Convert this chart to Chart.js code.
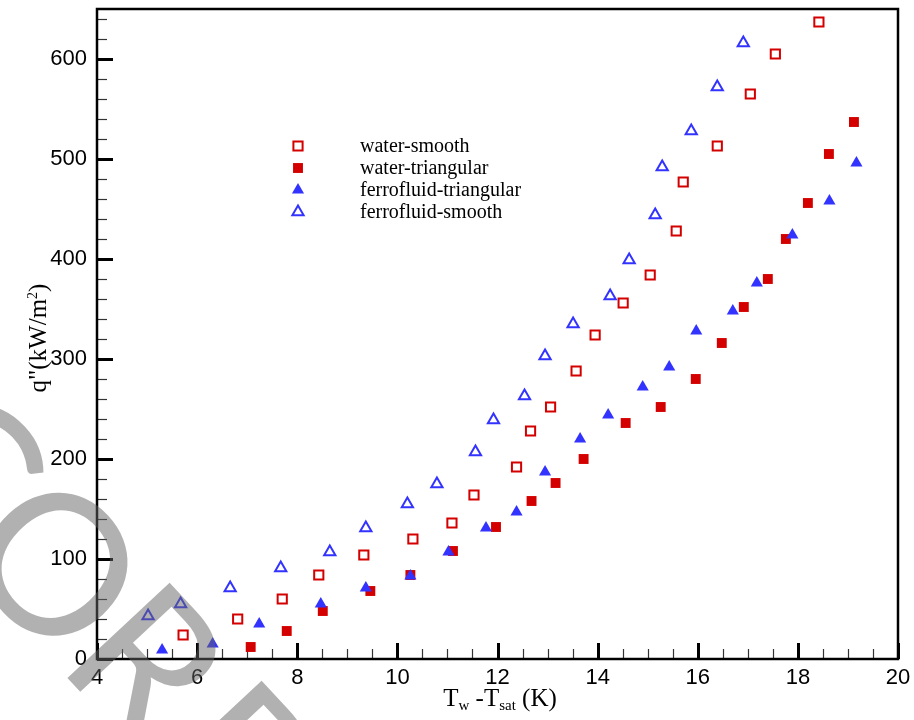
<!DOCTYPE html>
<html>
<head>
<meta charset="utf-8">
<script src="https://cdn.jsdelivr.net/npm/chart.js@4.4.1/dist/chart.umd.min.js"></script>
<style>
    html, body { margin: 0; padding: 0; background: #fff; }
</style>
</head>
<body>
<canvas id="chart" width="914" height="720"></canvas>
<script>
// Données
const waterSmoothX = [5.72, 6.81, 7.70, 8.43, 9.33, 10.31, 11.09, 11.53, 12.38, 12.66, 13.06, 13.57, 13.95, 14.51, 15.05, 15.57, 15.71, 16.39, 17.05, 17.55, 18.42];
const waterSmoothY = [24, 40, 60, 84, 104, 120, 136, 164, 192, 228, 252, 288, 324, 356, 384, 428, 477, 513, 565, 605, 637];

const waterTriX = [7.07, 7.79, 8.51, 9.46, 10.26, 11.11, 11.97, 12.68, 13.16, 13.72, 14.56, 15.26, 15.96, 16.48, 16.92, 17.40, 17.76, 18.20, 18.62, 19.12];
const waterTriY = [12, 28, 48, 68, 84, 108, 132, 158, 176, 200, 236, 252, 280, 316, 352, 380, 420, 456, 505, 537];

const ferroTriX = [5.30, 6.31, 7.24, 8.47, 9.37, 10.26, 11.02, 11.77, 12.38, 12.95, 13.65, 14.21, 14.90, 15.43, 15.97, 16.70, 17.18, 17.89, 18.63, 19.17];
const ferroTriY = [9, 15, 35, 55, 71, 83, 107, 131, 147, 187, 220, 244, 272, 292, 328, 348, 376, 424, 458, 496];

const ferroSmoothX = [5.02, 5.67, 6.66, 7.67, 8.65, 9.37, 10.20, 10.79, 11.56, 11.92, 12.54, 12.95, 13.51, 14.25, 14.63, 15.15, 15.29, 15.87, 16.39, 16.91];
const ferroSmoothY = [43, 55, 71, 91, 107, 131, 155, 175, 207, 239, 263, 303, 335, 363, 399, 444, 492, 528, 572, 616];

const seriesLabels = ['water-smooth', 'water-triangular', 'ferrofluid-triangular', 'ferrofluid-smooth'];
const xTicks = [4, 6, 8, 10, 12, 14, 16, 18, 20];
const yTicks = [0, 100, 200, 300, 400, 500, 600];

const RED = '#d40000';
const BLUE = '#3333ff';
const SERIF = "'Liberation Serif', 'Times New Roman', serif";
const SANS = "'Liberation Sans', Arial, sans-serif";

function toPoints(xs, ys) {
    return xs.map((x, i) => ({ x: x, y: ys[i] }));
}

// Cadre + graduations intérieures (majeures et mineures)
const frameTicks = {
    id: 'frameTicks',
    beforeDatasetsDraw(chart) {
        const ctx = chart.ctx;
        const a = chart.chartArea;
        const xs = chart.scales.x;
        const ys = chart.scales.y;
        ctx.save();
        for (let v = 0; v <= 650; v += 20) {
            const major = v % 100 === 0;
            const py = Math.round(ys.getPixelForValue(v)) + 0.5;
            ctx.beginPath();
            ctx.lineWidth = major ? 3 : 1.2;
            ctx.strokeStyle = major ? '#000' : '#333';
            ctx.moveTo(a.left, py);
            ctx.lineTo(a.left + (major ? 16 : 10), py);
            ctx.stroke();
        }
        for (let v = 4; v <= 20; v += 0.5) {
            const major = v % 2 === 0;
            const px = Math.round(xs.getPixelForValue(v)) + 0.5;
            ctx.beginPath();
            ctx.lineWidth = major ? 3 : 1.2;
            ctx.strokeStyle = major ? '#000' : '#333';
            ctx.moveTo(px, a.bottom);
            ctx.lineTo(px, a.bottom - (major ? 16 : 10));
            ctx.stroke();
        }
        ctx.lineWidth = 2.5;
        ctx.strokeStyle = '#000';
        ctx.strokeRect(a.left, a.top, a.right - a.left, a.bottom - a.top);
        ctx.restore();
    }
};

// Texte avec indices / exposants
function drawRich(ctx, parts, x, y, align) {
    let total = 0;
    parts.forEach(p => {
        ctx.font = p.size + 'px ' + SERIF;
        p.w = ctx.measureText(p.t).width;
        total += p.w;
    });
    let cx = align === 'center' ? x - total / 2 : x;
    parts.forEach(p => {
        ctx.font = p.size + 'px ' + SERIF;
        ctx.fillText(p.t, cx, y + (p.dy || 0));
        cx += p.w;
    });
}

const annotations = {
    id: 'annotations',
    afterDraw(chart) {
        const ctx = chart.ctx;
        const sets = chart.data.datasets;
        ctx.save();
        ctx.fillStyle = '#000';
        ctx.textAlign = 'left';
        ctx.textBaseline = 'alphabetic';

        // Titre de l'axe x
        drawRich(ctx, [
            { t: 'T', size: 25 },
            { t: 'w', size: 15, dy: 4 },
            { t: ' -T', size: 25 },
            { t: 'sat', size: 15, dy: 4 },
            { t: ' (K)', size: 25 }
        ], 500, 706, 'center');

        // Titre de l'axe y (vertical)
        ctx.save();
        ctx.translate(46, 338);
        ctx.rotate(-Math.PI / 2);
        drawRich(ctx, [
            { t: 'q"(kW/m', size: 25 },
            { t: '2', size: 14, dy: -9 },
            { t: ')', size: 25 }
        ], 0, 0, 'center');
        ctx.restore();

        // Légende
        const rows = [146, 168, 190, 212];
        sets.forEach((ds, i) => {
            ctx.fillStyle = ds.backgroundColor;
            ctx.strokeStyle = ds.borderColor;
            ctx.lineWidth = ds.borderWidth;
            Chart.helpers.drawPoint(ctx, {
                pointStyle: ds.pointStyle,
                radius: ds.pointRadius,
                rotation: 0,
                borderWidth: ds.borderWidth
            }, 298, rows[i]);
            ctx.fillStyle = '#000';
            ctx.font = '20px ' + SERIF;
            ctx.textBaseline = 'middle';
            ctx.fillText(ds.label, 360, rows[i] + 1);
        });
        ctx.restore();

        // Filigrane gris
        ctx.save();
        ctx.fillStyle = 'rgba(100,100,100,0.5)';
        ctx.font = '400 195px Lato, sans-serif';
        ctx.textAlign = 'center';
        ctx.textBaseline = 'alphabetic';
        const letters = ['C', 'O', 'R', 'R'];
        letters.forEach((l, i) => {
            ctx.save();
            ctx.translate(-36 + 92 * i, 466 + 98 * i);
            ctx.rotate(47 * Math.PI / 180);
            ctx.fillText(l, 0, 70);
            ctx.restore();
        });
        ctx.restore();
    }
};

new Chart(document.getElementById('chart'), {
    type: 'scatter',
    data: {
        datasets: [
            {
                label: seriesLabels[0],
                data: toPoints(waterSmoothX, waterSmoothY),
                pointStyle: 'rect',
                pointRadius: 6.5,
                backgroundColor: '#fff',
                borderColor: RED,
                borderWidth: 2,
                order: 2
            },
            {
                label: seriesLabels[1],
                data: toPoints(waterTriX, waterTriY),
                pointStyle: 'rect',
                pointRadius: 7,
                backgroundColor: RED,
                borderColor: RED,
                borderWidth: 0,
                order: 3
            },
            {
                label: seriesLabels[2],
                data: toPoints(ferroTriX, ferroTriY),
                pointStyle: 'triangle',
                pointRadius: 7,
                backgroundColor: BLUE,
                borderColor: BLUE,
                borderWidth: 0,
                order: 1
            },
            {
                label: seriesLabels[3],
                data: toPoints(ferroSmoothX, ferroSmoothY),
                pointStyle: 'triangle',
                pointRadius: 6.5,
                backgroundColor: '#fff',
                borderColor: BLUE,
                borderWidth: 2,
                order: 2
            }
        ]
    },
    options: {
        responsive: false,
        animation: false,
        events: [],
        layout: { padding: { top: 9, right: 16, left: 0, bottom: 0 } },
        plugins: {
            legend: { display: false },
            tooltip: { enabled: false }
        },
        scales: {
            x: {
                type: 'linear',
                min: 4,
                max: 20,
                grid: { display: false, drawTicks: false },
                border: { display: false },
                afterBuildTicks: scale => {
                    scale.ticks = xTicks.map(v => ({ value: v }));
                },
                afterFit: scale => {
                    scale.height = 61;
                    scale.paddingLeft = 0;
                    scale.paddingRight = 0;
                },
                ticks: {
                    padding: 6,
                    maxRotation: 0,
                    autoSkip: false,
                    color: '#000',
                    font: { family: SANS, size: 22 }
                }
            },
            y: {
                type: 'linear',
                min: 0,
                max: 650,
                grid: { display: false, drawTicks: false },
                border: { display: false },
                afterBuildTicks: scale => {
                    scale.ticks = yTicks.map(v => ({ value: v }));
                },
                afterFit: scale => {
                    scale.width = 97;
                    scale.paddingTop = 0;
                    scale.paddingBottom = 0;
                },
                ticks: {
                    padding: 10,
                    color: '#000',
                    font: { family: SANS, size: 22 }
                }
            }
        }
    },
    plugins: [frameTicks, annotations]
});
</script>
</body>
</html>
